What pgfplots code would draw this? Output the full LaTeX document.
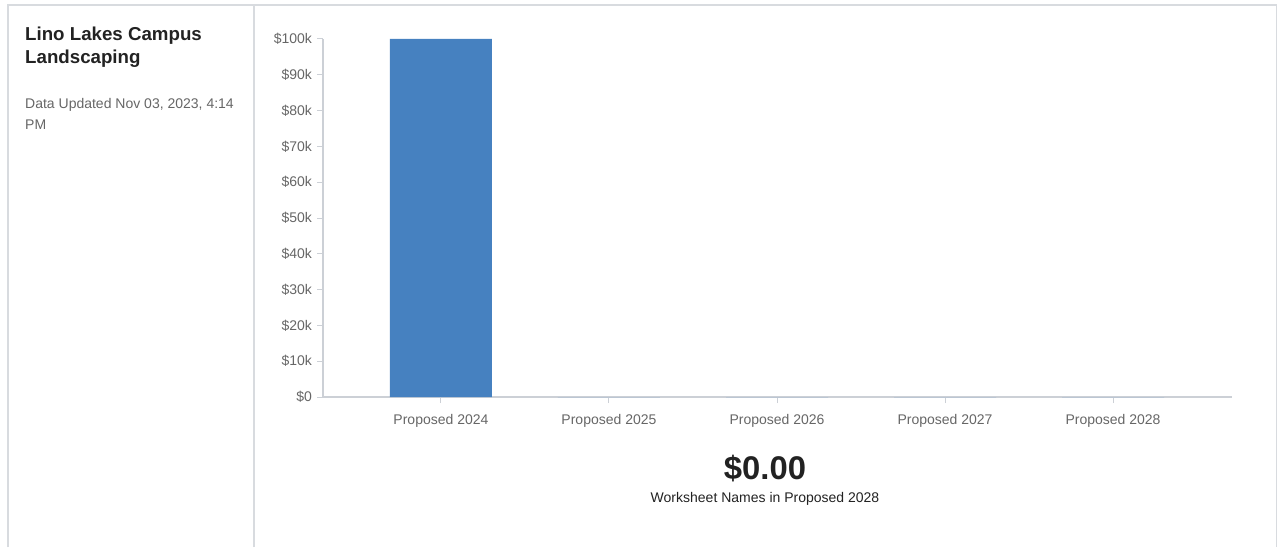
\documentclass[border=0pt]{standalone}
\usepackage{pgfplots}
\pgfplotsset{compat=1.18}
\usepackage{fontspec}
\setmainfont{Liberation Sans}
\definecolor{barblue}{RGB}{70,129,192}
\definecolor{axgray}{RGB}{204,208,214}
\definecolor{lblgray}{RGB}{102,102,102}
\definecolor{framegray}{RGB}{216,219,223}
\definecolor{titleblack}{RGB}{34,34,34}
\begin{document}
\begin{tikzpicture}
\path[use as bounding box] (0pt,0pt) rectangle (1278pt,547pt);
\draw[framegray, line width=1.2pt] (8pt,0pt) -- (8pt,542pt) -- (1276.5pt,542pt) -- (1276.5pt,0pt);
\draw[framegray, line width=1.6pt] (254pt,0pt) -- (254pt,542pt);
\node[anchor=base west, inner sep=0, font=\fontsize{18.7}{22}\selectfont\bfseries, text=titleblack] at (25pt,506pt) {Lino Lakes Campus};
\node[anchor=base west, inner sep=0, font=\fontsize{18.7}{22}\selectfont\bfseries, text=titleblack] at (25pt,483pt) {Landscaping};
\node[anchor=base west, inner sep=0, font=\fontsize{14}{17}\selectfont, text=lblgray] at (25pt,438pt) {Data Updated Nov 03, 2023, 4:14};
\node[anchor=base west, inner sep=0, font=\fontsize{14}{17}\selectfont, text=lblgray] at (25pt,417pt) {PM};
\begin{axis}[
  at={(323pt,150pt)}, anchor=south west,
  scale only axis, width=909pt, height=358pt,
  xmin=-0.702, xmax=4.708, ymin=0, ymax=100000,
  ybar, bar width=102pt,
  axis x line*=bottom, axis y line*=left,
  x axis line style={axgray, line width=2pt, -},
  y axis line style={axgray, line width=1.3pt, -},
  tick style={axgray, line width=1pt},
  tick align=outside, major tick length=6pt,
  xtick={0,1,2,3,4},
  xticklabels={Proposed 2024,Proposed 2025,Proposed 2026,Proposed 2027,Proposed 2028},
  ytick={0,10000,20000,30000,40000,50000,60000,70000,80000,90000,100000},
  yticklabels={\$0,\$10k,\$20k,\$30k,\$40k,\$50k,\$60k,\$70k,\$80k,\$90k,\$100k},
  scaled y ticks=false,
  xticklabel style={font=\fontsize{14}{17}\selectfont, text=lblgray, yshift=-8pt},
  yticklabel style={font=\fontsize{14}{17}\selectfont, text=lblgray, xshift=-1.5pt},
  clip=false,
]
\addplot[fill=barblue, draw=none] coordinates {(0,100000) (1,0) (2,0) (3,0) (4,0)};
\end{axis}
\node[font=\fontsize{32.8}{38}\selectfont\bfseries, text=titleblack, inner sep=0] at (765pt,78pt) {\$0.00};
\node[font=\fontsize{14}{17}\selectfont, text=titleblack, inner sep=0] at (765pt,48pt) {Worksheet Names in Proposed 2028};
\end{tikzpicture}
\end{document}
